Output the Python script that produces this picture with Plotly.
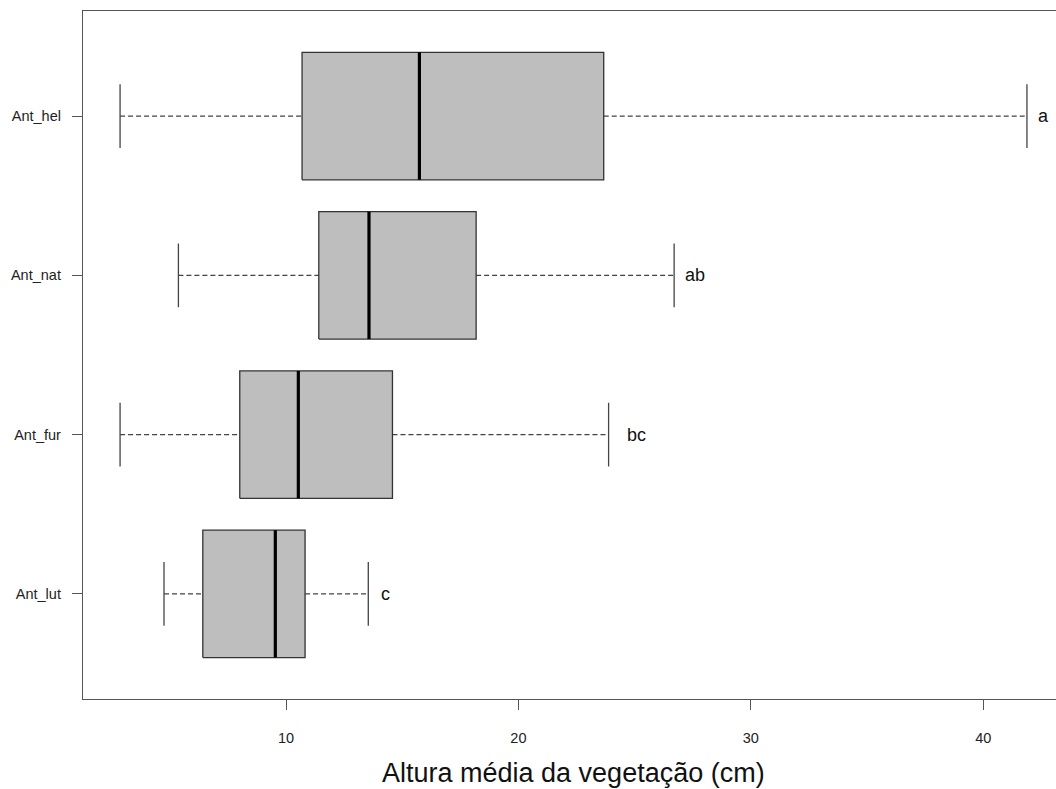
import plotly.graph_objects as go

# ---- data (top to bottom as displayed) ----
groups = ["Ant_hel", "Ant_nat", "Ant_fur", "Ant_lut"]
lower_whisker = [2.86, 5.37, 2.86, 4.75]
q1 = [10.69, 11.41, 8.01, 6.42]
median = [15.74, 13.57, 10.53, 9.54]
q3 = [23.67, 18.18, 14.58, 10.82]
upper_whisker = [41.88, 26.70, 23.88, 13.54]
letters = ["a", "ab", "bc", "c"]
x_ticks = [10, 20, 30, 40]

FONT = "Liberation Sans, Arial, sans-serif"
BOX_FILL = "#bebebe"
BOX_LINE = "#333333"
WHISK = "#444444"
AXIS = "#555555"

n = len(groups)
pos = [n - i for i in range(n)]  # Ant_hel at top
half_box = 0.4
half_cap = 0.2

fig = go.Figure()

for i, g in enumerate(groups):
    y = pos[i]
    # whiskers (dashed)
    fig.add_trace(go.Scatter(
        x=[lower_whisker[i], q1[i], None, q3[i], upper_whisker[i]],
        y=[y, y, None, y, y], mode="lines",
        line=dict(color=WHISK, width=1.1, dash="5px,3px"),
        hoverinfo="skip", showlegend=False))
    # caps
    fig.add_trace(go.Scatter(
        x=[lower_whisker[i], lower_whisker[i], None, upper_whisker[i], upper_whisker[i]],
        y=[y - half_cap, y + half_cap, None, y - half_cap, y + half_cap], mode="lines",
        line=dict(color=WHISK, width=1.3),
        hoverinfo="skip", showlegend=False))
    # box
    fig.add_trace(go.Scatter(
        x=[q1[i], q3[i], q3[i], q1[i], q1[i]],
        y=[y - half_box, y - half_box, y + half_box, y + half_box, y - half_box],
        mode="lines", fill="toself", fillcolor=BOX_FILL,
        line=dict(color=BOX_LINE, width=1.3),
        hoverinfo="skip", showlegend=False))
    # median
    fig.add_trace(go.Scatter(
        x=[median[i], median[i]], y=[y - half_box, y + half_box], mode="lines",
        line=dict(color="#000000", width=3.2),
        hoverinfo="skip", showlegend=False))

# significance letters
offsets = [0.41, 0.37, 0.71, 0.48]
for i, g in enumerate(groups):
    fig.add_annotation(x=upper_whisker[i] + offsets[i], y=pos[i], text=letters[i],
                       xref="x", yref="y", xanchor="left", yanchor="middle",
                       showarrow=False, font=dict(family=FONT, size=18, color="#111111"))

# axis title
fig.add_annotation(x=0.5036, y=-0.108, xref="paper", yref="paper",
                   text="Altura média da vegetação (cm)", showarrow=False,
                   xanchor="center", yanchor="middle",
                   font=dict(family=FONT, size=27, color="#111111"))

fig.update_layout(
    width=1056, height=789,
    margin=dict(l=83, r=0, t=11, b=90),
    paper_bgcolor="white", plot_bgcolor="white",
    font=dict(family=FONT, color="#222222"),
    xaxis=dict(range=[1.265, 43.13], tickvals=x_ticks, ticktext=[str(v) for v in x_ticks],
               showgrid=False, zeroline=False,
               showline=True, mirror=True, linecolor=AXIS, linewidth=1.3,
               ticks="outside", ticklen=10, tickwidth=1.2, tickcolor=AXIS,
               ticklabelstandoff=15,
               tickfont=dict(family=FONT, size=14.5, color="#222222")),
    yaxis=dict(range=[0.34, 4.66], tickvals=pos, ticktext=groups,
               showgrid=False, zeroline=False,
               showline=True, mirror=False, linecolor=AXIS, linewidth=1.3,
               ticks="outside", ticklen=10, tickwidth=1.2, tickcolor=AXIS,
               ticklabelstandoff=8,
               tickfont=dict(family=FONT, size=14.5, color="#222222")),
)

fig.write_html("out.html")
